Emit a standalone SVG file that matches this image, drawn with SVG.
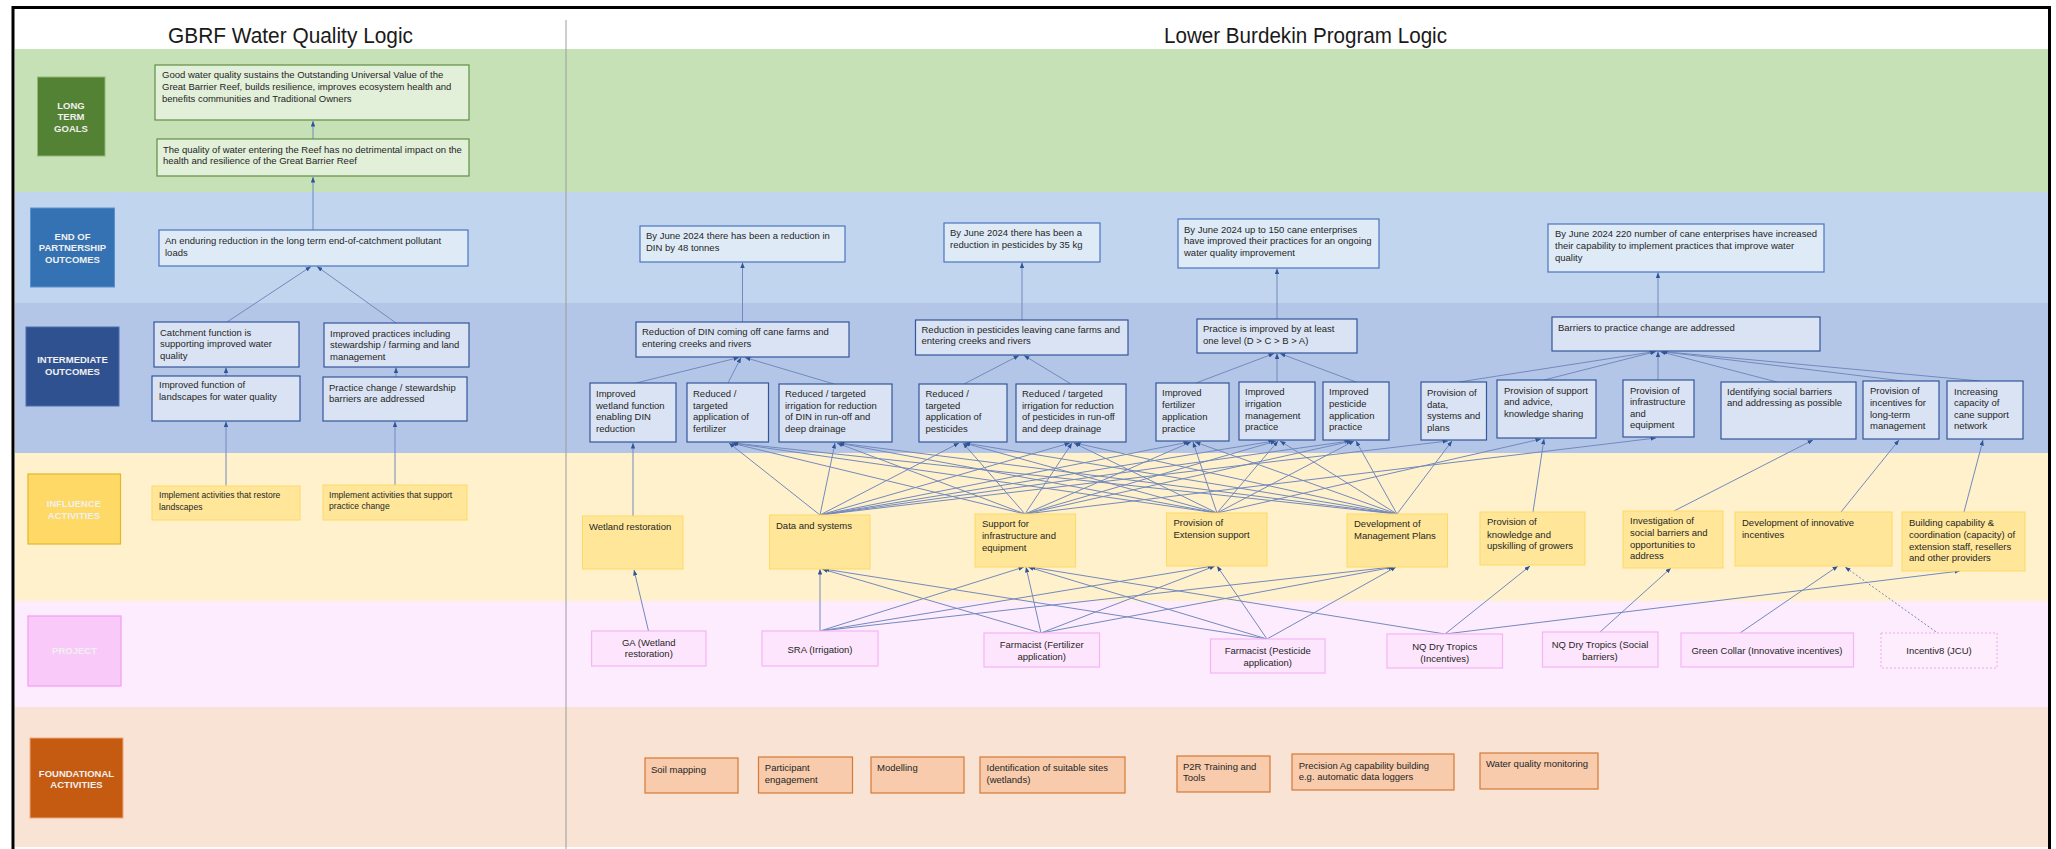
<svg xmlns="http://www.w3.org/2000/svg" width="2056" height="849" viewBox="0 0 2056 849">
<defs>
<marker id="ah" viewBox="0 0 10 8" refX="10" refY="4" markerWidth="5.5" markerHeight="4.4" markerUnits="userSpaceOnUse" orient="auto" preserveAspectRatio="none">
<path d="M0,0 L10,4 L0,8 z" fill="#2f5597"/>
</marker>
<style>
text{font-family:"Liberation Sans",Arial,sans-serif;}
.t{font-size:9.5px;fill:#262626;}
.ts{font-size:8.6px;fill:#262626;}
.ctr{text-anchor:middle;}
.h{font-size:9.5px;font-weight:bold;fill:#f0f0f0;text-anchor:middle;}
.ttl{font-size:22px;fill:#1a1a1a;text-anchor:middle;}
.gl{fill:#e2efd9;stroke:#5f8f45;stroke-width:1.2;}
.eo{fill:#deebf7;stroke:#4a74c0;stroke-width:1.2;}
.io{fill:#dae3f3;stroke:#34569a;stroke-width:1.2;}
.inf{fill:#ffe699;stroke:#ffd966;stroke-width:1;}
.pr{fill:#fde5fd;stroke:#f5b4f3;stroke-width:1.2;}
.prd{fill:#fdedfd;stroke:#f2a8ef;stroke-width:1;stroke-dasharray:2 2;}
.fd{fill:#f7cbab;stroke:#d47a36;stroke-width:1.2;}
.c{stroke:#7389bd;stroke-width:1;fill:none;marker-end:url(#ah);}
.cd{stroke:#7389bd;stroke-width:1;fill:none;stroke-dasharray:2 2;marker-end:url(#ah);}
</style>
</defs>
<rect x="0" y="0" width="2056" height="849" fill="#ffffff"/>
<g id="bands">
<rect x="15" y="49" width="2033" height="143" fill="#c7e1b6"/>
<rect x="15" y="192" width="2033" height="111" fill="#c1d6ee"/>
<rect x="15" y="303" width="2033" height="150" fill="#b4c6e7"/>
<rect x="15" y="453" width="2033" height="148" fill="#fff1cc"/>
<rect x="15" y="601" width="2033" height="106" fill="#fdecfd"/>
<rect x="15" y="707" width="2033" height="140" fill="#f9e3d5"/>
<line x1="566" y1="20" x2="566" y2="849" stroke="#9c9c9c" stroke-width="1"/>
<path d="M13,849 V7.5 H2049.5 V849" fill="none" stroke="#000" stroke-width="3"/>
</g>
<g id="titles">
<text class="ttl" x="290.5" y="43" textLength="245" lengthAdjust="spacingAndGlyphs">GBRF Water Quality Logic</text>
<text class="ttl" x="1305.5" y="43" textLength="283" lengthAdjust="spacingAndGlyphs">Lower Burdekin Program Logic</text>
</g>
<g id="hdr-ltg"><rect x="37.5" y="77" width="67.5" height="79" fill="#548235" stroke="#8fb872" stroke-width="1"/>
<text class="h" x="71" y="108.5">LONG</text><text class="h" x="71" y="120">TERM</text><text class="h" x="71" y="131.5">GOALS</text></g>
<g id="hdr-eop"><rect x="30.5" y="208" width="84" height="79" fill="#3572b4" stroke="#5a90cc" stroke-width="1"/>
<text class="h" x="72.5" y="239.5">END OF</text><text class="h" x="72.5" y="251">PARTNERSHIP</text><text class="h" x="72.5" y="262.7">OUTCOMES</text></g>
<g id="hdr-io"><rect x="26" y="327" width="93" height="79" fill="#30518f" stroke="#4a6db0" stroke-width="1"/>
<text class="h" x="72.5" y="363">INTERMEDIATE</text><text class="h" x="72.5" y="374.7">OUTCOMES</text></g>
<g id="hdr-inf"><rect x="28" y="474" width="92.5" height="70" fill="#ffd966" stroke="#e3b62c" stroke-width="1.2"/>
<text class="h" x="74" y="507.4">INFLUENCE</text><text class="h" x="74" y="519">ACTIVITIES</text></g>
<g id="hdr-proj"><rect x="28" y="616" width="93" height="70" fill="#f9caf9" stroke="#f39cf1" stroke-width="1.2"/>
<text class="h" x="74.5" y="654.4">PROJECT</text></g>
<g id="hdr-found"><rect x="30" y="738" width="93" height="80" fill="#c55a11" stroke="#f0a878" stroke-width="1"/>
<text class="h" x="76.5" y="776.7">FOUNDATIONAL</text><text class="h" x="76.5" y="788.4">ACTIVITIES</text></g>

<g id="connectors">
<line class="c" x1="313" y1="139" x2="313" y2="121"/>
<line class="c" x1="313" y1="230" x2="313" y2="177"/>
<line class="c" x1="227" y1="322" x2="311" y2="266.5"/>
<line class="c" x1="396" y1="323" x2="317" y2="266.5"/>
<line class="c" x1="226" y1="376" x2="226" y2="367.5"/>
<line class="c" x1="396" y1="377" x2="396" y2="367.5"/>
<line class="c" x1="226" y1="485.5" x2="226" y2="421.5"/>
<line class="c" x1="395" y1="485" x2="395" y2="421.5"/>
<line class="c" x1="742.5" y1="322" x2="742.5" y2="262.5"/>
<line class="c" x1="1022" y1="320" x2="1022" y2="262.5"/>
<line class="c" x1="1277" y1="319" x2="1277" y2="268.5"/>
<line class="c" x1="1658" y1="317" x2="1658" y2="272.5"/>
<line class="c" x1="636" y1="383" x2="739" y2="357.5"/>
<line class="c" x1="728" y1="383" x2="741" y2="357.5"/>
<line class="c" x1="834" y1="384" x2="745" y2="357.5"/>
<line class="c" x1="964" y1="384" x2="1019" y2="355.5"/>
<line class="c" x1="1071" y1="384" x2="1024" y2="355.5"/>
<line class="c" x1="1196" y1="383" x2="1274" y2="353.5"/>
<line class="c" x1="1277" y1="382" x2="1277" y2="353.5"/>
<line class="c" x1="1356" y1="382" x2="1280" y2="353.5"/>
<line class="c" x1="1459" y1="382" x2="1655" y2="351.5"/>
<line class="c" x1="1544" y1="380" x2="1656" y2="351.5"/>
<line class="c" x1="1658" y1="380" x2="1658" y2="351.5"/>
<line class="c" x1="1777" y1="382" x2="1660" y2="351.5"/>
<line class="c" x1="1903" y1="381" x2="1661" y2="351.5"/>
<line class="c" x1="1980" y1="381" x2="1662" y2="351.5"/>
<line class="c" x1="633" y1="516" x2="633" y2="443"/>
<line class="c" x1="820" y1="515" x2="729" y2="443"/>
<line class="c" x1="820" y1="515" x2="835" y2="443"/>
<line class="c" x1="820" y1="515" x2="959" y2="443"/>
<line class="c" x1="820" y1="515" x2="1070" y2="443"/>
<line class="c" x1="820" y1="515" x2="1189" y2="442"/>
<line class="c" x1="820" y1="515" x2="1274" y2="441"/>
<line class="c" x1="820" y1="515" x2="1350" y2="441"/>
<line class="c" x1="820" y1="515" x2="1448" y2="441"/>
<line class="c" x1="1025" y1="514" x2="731" y2="443"/>
<line class="c" x1="1025" y1="514" x2="837" y2="443"/>
<line class="c" x1="1025" y1="514" x2="963" y2="443"/>
<line class="c" x1="1025" y1="514" x2="1072" y2="443"/>
<line class="c" x1="1025" y1="514" x2="1191" y2="442"/>
<line class="c" x1="1025" y1="514" x2="1276" y2="441"/>
<line class="c" x1="1025" y1="514" x2="1352" y2="441"/>
<line class="c" x1="1025" y1="514" x2="1656" y2="438"/>
<line class="c" x1="1217" y1="513" x2="732" y2="443"/>
<line class="c" x1="1217" y1="513" x2="838" y2="443"/>
<line class="c" x1="1217" y1="513" x2="964" y2="443"/>
<line class="c" x1="1217" y1="513" x2="1074" y2="443"/>
<line class="c" x1="1217" y1="513" x2="1193" y2="442"/>
<line class="c" x1="1217" y1="513" x2="1278" y2="441"/>
<line class="c" x1="1217" y1="513" x2="1354" y2="441"/>
<line class="c" x1="1217" y1="513" x2="1541" y2="439"/>
<line class="c" x1="1397" y1="514" x2="733" y2="443"/>
<line class="c" x1="1397" y1="514" x2="839" y2="443"/>
<line class="c" x1="1397" y1="514" x2="965" y2="443"/>
<line class="c" x1="1397" y1="514" x2="1075" y2="443"/>
<line class="c" x1="1397" y1="514" x2="1195" y2="442"/>
<line class="c" x1="1397" y1="514" x2="1280" y2="441"/>
<line class="c" x1="1397" y1="514" x2="1356" y2="441"/>
<line class="c" x1="1397" y1="514" x2="1452" y2="441"/>
<line class="c" x1="1533" y1="512" x2="1544" y2="439"/>
<line class="c" x1="1674" y1="511" x2="1813" y2="440"/>
<line class="c" x1="1841" y1="512" x2="1899" y2="440"/>
<line class="c" x1="1964" y1="512" x2="1983" y2="440"/>
<line class="c" x1="648.5" y1="631" x2="634" y2="570"/>
<line class="c" x1="820" y1="631" x2="820" y2="569"/>
<line class="c" x1="820" y1="631" x2="1024" y2="567"/>
<line class="c" x1="820" y1="631" x2="1213" y2="566"/>
<line class="c" x1="820" y1="631" x2="1392" y2="567"/>
<line class="c" x1="1041" y1="633" x2="822" y2="569"/>
<line class="c" x1="1041" y1="633" x2="1026" y2="567"/>
<line class="c" x1="1041" y1="633" x2="1215" y2="566"/>
<line class="c" x1="1041" y1="633" x2="1394" y2="567"/>
<line class="c" x1="1267" y1="639" x2="824" y2="569"/>
<line class="c" x1="1267" y1="639" x2="1028" y2="567"/>
<line class="c" x1="1267" y1="639" x2="1217" y2="566"/>
<line class="c" x1="1267" y1="639" x2="1396" y2="567"/>
<line class="c" x1="1445" y1="634" x2="1030" y2="567"/>
<line class="c" x1="1445" y1="634" x2="1530" y2="566"/>
<line class="c" x1="1445" y1="634" x2="1960" y2="571"/>
<line class="c" x1="1600" y1="632" x2="1671" y2="568"/>
<line class="c" x1="1740" y1="633" x2="1838" y2="566"/>
<line class="cd" x1="1939" y1="634" x2="1845" y2="567"/>
</g>

<g id="goal1"><rect class="gl" x="155" y="65" width="314" height="55"/>
<text class="t" x="162" y="77.5">Good water quality sustains the Outstanding Universal Value of the</text>
<text class="t" x="162" y="89.5">Great Barrier Reef, builds resilience, improves ecosystem health and</text>
<text class="t" x="162" y="101.5">benefits communities and Traditional Owners</text></g>
<g id="goal2"><rect class="gl" x="157" y="139" width="312" height="37"/>
<text class="t" x="163" y="152.5">The quality of water entering the Reef has no detrimental impact on the</text>
<text class="t" x="163" y="164">health and resilience of the Great Barrier Reef</text></g>
<g id="eop-left"><rect class="eo" x="159" y="230" width="309" height="36"/>
<text class="t" x="165" y="243.5">An enduring reduction in the long term end-of-catchment pollutant</text>
<text class="t" x="165" y="255.5">loads</text></g>
<g id="io-catchment"><rect class="io" x="154" y="322" width="145" height="45"/>
<text class="t" x="160" y="335.5">Catchment function is</text>
<text class="t" x="160" y="347">supporting improved water</text>
<text class="t" x="160" y="358.5">quality</text></g>
<g id="io-practices"><rect class="io" x="324" y="323" width="145" height="44"/>
<text class="t" x="330" y="336.5">Improved practices including</text>
<text class="t" x="330" y="348">stewardship / farming and land</text>
<text class="t" x="330" y="359.5">management</text></g>
<g id="io-landscapes"><rect class="io" x="152" y="376" width="148" height="45"/>
<text class="t" x="159" y="388">Improved function of</text>
<text class="t" x="159" y="399.5">landscapes for water quality</text></g>
<g id="io-barriers-left"><rect class="io" x="323" y="377" width="144" height="44"/>
<text class="t" x="329" y="390.5">Practice change / stewardship</text>
<text class="t" x="329" y="402">barriers are addressed</text></g>
<g id="inf-restore"><rect class="inf" x="152" y="486" width="148" height="34"/>
<text class="ts" x="159" y="497.5">Implement activities that restore</text>
<text class="ts" x="159" y="509.5">landscapes</text></g>
<g id="inf-support-left"><rect class="inf" x="323" y="485" width="144" height="35"/>
<text class="ts" x="329" y="497.5">Implement activities that support</text>
<text class="ts" x="329" y="508.5">practice change</text></g>

<g id="eop-din"><rect class="eo" x="640" y="226" width="205" height="36"/>
<text class="t" x="646" y="238.5">By June 2024 there has been a reduction in</text>
<text class="t" x="646" y="250.5">DIN by 48 tonnes</text></g>
<g id="eop-pest"><rect class="eo" x="944" y="223" width="156" height="39"/>
<text class="t" x="950" y="236.2">By June 2024 there has been a</text>
<text class="t" x="950" y="247.5">reduction in pesticides by 35 kg</text></g>
<g id="eop-150"><rect class="eo" x="1178" y="219" width="201" height="49"/>
<text class="t" x="1184" y="232.5">By June 2024 up to 150 cane enterprises</text>
<text class="t" x="1184" y="244.2">have improved their practices for an ongoing</text>
<text class="t" x="1184" y="255.8">water quality improvement</text></g>
<g id="eop-220"><rect class="eo" x="1548" y="224" width="276" height="48"/>
<text class="t" x="1555" y="236.8">By June 2024 220 number of cane enterprises have increased</text>
<text class="t" x="1555" y="249.2">their capability to implement practices that improve water</text>
<text class="t" x="1555" y="260.8">quality</text></g>

<g id="io-din"><rect class="io" x="636" y="322" width="213" height="35"/>
<text class="t" x="642" y="335.2">Reduction of DIN coming off cane farms and</text>
<text class="t" x="642" y="346.8">entering creeks and rivers</text></g>
<g id="io-pest"><rect class="io" x="915.5" y="320" width="212.5" height="35"/>
<text class="t" x="921.5" y="332.8">Reduction in pesticides leaving cane farms and</text>
<text class="t" x="921.5" y="344.2">entering creeks and rivers</text></g>
<g id="io-practice"><rect class="io" x="1197" y="319" width="160" height="34"/>
<text class="t" x="1203" y="332.2">Practice is improved by at least</text>
<text class="t" x="1203" y="344.2">one level (D &gt; C &gt; B &gt; A)</text></g>
<g id="io-barriers"><rect class="io" x="1552" y="317" width="268" height="34"/>
<text class="t" x="1558" y="331.2">Barriers to practice change are addressed</text></g>

<g id="s-wetland"><rect class="io" x="590" y="383" width="86" height="59"/>
<text class="t" x="596" y="396.8">Improved</text><text class="t" x="596" y="408.5">wetland function</text><text class="t" x="596" y="420.2">enabling DIN</text><text class="t" x="596" y="431.8">reduction</text></g>
<g id="s-fert"><rect class="io" x="687" y="383" width="81.5" height="59"/>
<text class="t" x="693" y="396.8">Reduced /</text><text class="t" x="693" y="408.5">targeted</text><text class="t" x="693" y="420.2">application of</text><text class="t" x="693" y="431.8">fertilizer</text></g>
<g id="s-irr-din"><rect class="io" x="779" y="384" width="113" height="58"/>
<text class="t" x="785" y="396.8">Reduced / targeted</text><text class="t" x="785" y="408.5">irrigation for reduction</text><text class="t" x="785" y="420.2">of DIN in run-off and</text><text class="t" x="785" y="431.8">deep drainage</text></g>
<g id="s-pest"><rect class="io" x="919" y="384" width="88" height="58"/>
<text class="t" x="925.5" y="396.8">Reduced /</text><text class="t" x="925.5" y="408.5">targeted</text><text class="t" x="925.5" y="420.2">application of</text><text class="t" x="925.5" y="431.8">pesticides</text></g>
<g id="s-irr-pest"><rect class="io" x="1016" y="384" width="110" height="58"/>
<text class="t" x="1022" y="396.8">Reduced / targeted</text><text class="t" x="1022" y="408.5">irrigation for reduction</text><text class="t" x="1022" y="420.2">of pesticides in run-off</text><text class="t" x="1022" y="431.8">and deep drainage</text></g>
<g id="s-imp-fert"><rect class="io" x="1156" y="383" width="73" height="58"/>
<text class="t" x="1162" y="395.8">Improved</text><text class="t" x="1162" y="407.5">fertilizer</text><text class="t" x="1162" y="420.2">application</text><text class="t" x="1162" y="431.8">practice</text></g>
<g id="s-imp-irr"><rect class="io" x="1239" y="382" width="76" height="58"/>
<text class="t" x="1245" y="395.3">Improved</text><text class="t" x="1245" y="407">irrigation</text><text class="t" x="1245" y="418.7">management</text><text class="t" x="1245" y="430.3">practice</text></g>
<g id="s-imp-pest"><rect class="io" x="1323" y="382" width="66" height="58"/>
<text class="t" x="1329" y="395.3">Improved</text><text class="t" x="1329" y="407">pesticide</text><text class="t" x="1329" y="418.7">application</text><text class="t" x="1329" y="430.3">practice</text></g>
<g id="s-data"><rect class="io" x="1421" y="382" width="65.5" height="58"/>
<text class="t" x="1427" y="395.8">Provision of</text><text class="t" x="1427" y="407.5">data,</text><text class="t" x="1427" y="419.2">systems and</text><text class="t" x="1427" y="430.8">plans</text></g>
<g id="s-advice"><rect class="io" x="1497" y="380" width="99" height="58"/>
<text class="t" x="1504" y="393.5">Provision of support</text><text class="t" x="1504" y="405.2">and advice,</text><text class="t" x="1504" y="416.8">knowledge sharing</text></g>
<g id="s-infra"><rect class="io" x="1623" y="380" width="71" height="57"/>
<text class="t" x="1630" y="393.5">Provision of</text><text class="t" x="1630" y="404.8">infrastructure</text><text class="t" x="1630" y="416.5">and</text><text class="t" x="1630" y="427.8">equipment</text></g>
<g id="s-social"><rect class="io" x="1721" y="382" width="135" height="57"/>
<text class="t" x="1727" y="395.2">Identifying social barriers</text><text class="t" x="1727" y="406.2">and addressing as possible</text></g>
<g id="s-incent"><rect class="io" x="1863" y="381" width="76" height="58"/>
<text class="t" x="1870" y="393.5">Provision of</text><text class="t" x="1870" y="405.8">incentives for</text><text class="t" x="1870" y="417.8">long-term</text><text class="t" x="1870" y="429.2">management</text></g>
<g id="s-capacity"><rect class="io" x="1947" y="381" width="76" height="58"/>
<text class="t" x="1954" y="395.2">Increasing</text><text class="t" x="1954" y="406.2">capacity of</text><text class="t" x="1954" y="417.8">cane support</text><text class="t" x="1954" y="429.2">network</text></g>

<g id="i-wetland"><rect class="inf" x="582.5" y="516" width="100.5" height="53"/>
<text class="t" x="589" y="529.5">Wetland restoration</text></g>
<g id="i-data"><rect class="inf" x="769.5" y="515" width="100.5" height="54"/>
<text class="t" x="776" y="528.5">Data and systems</text></g>
<g id="i-infra"><rect class="inf" x="975" y="514" width="100.6" height="53"/>
<text class="t" x="982" y="526.8">Support for</text><text class="t" x="982" y="538.8">infrastructure and</text><text class="t" x="982" y="550.5">equipment</text></g>
<g id="i-extension"><rect class="inf" x="1166.5" y="513" width="100.5" height="53"/>
<text class="t" x="1173.5" y="525.5">Provision of</text><text class="t" x="1173.5" y="537.5">Extension support</text></g>
<g id="i-plans"><rect class="inf" x="1347" y="514" width="100.5" height="53"/>
<text class="t" x="1354" y="526.8">Development of</text><text class="t" x="1354" y="538.5">Management Plans</text></g>
<g id="i-knowledge"><rect class="inf" x="1480" y="512" width="105" height="53"/>
<text class="t" x="1487" y="525.2">Provision of</text><text class="t" x="1487" y="537.5">knowledge and</text><text class="t" x="1487" y="549.2">upskilling of growers</text></g>
<g id="i-social"><rect class="inf" x="1623" y="511" width="100" height="57"/>
<text class="t" x="1630" y="524.2">Investigation of</text><text class="t" x="1630" y="535.8">social barriers and</text><text class="t" x="1630" y="547.5">opportunities to</text><text class="t" x="1630" y="559.2">address</text></g>
<g id="i-incentives"><rect class="inf" x="1735" y="512" width="157" height="54"/>
<text class="t" x="1742" y="525.8">Development of innovative</text><text class="t" x="1742" y="537.5">incentives</text></g>
<g id="i-capability"><rect class="inf" x="1902" y="512" width="123" height="59"/>
<text class="t" x="1909" y="525.5">Building capability &amp;</text><text class="t" x="1909" y="537.5">coordination (capacity) of</text><text class="t" x="1909" y="549.5">extension staff, resellers</text><text class="t" x="1909" y="560.5">and other providers</text></g>

<g id="p-ga"><rect class="pr" x="591.6" y="631" width="114.4" height="35"/>
<text class="t ctr" x="648.8" y="645.5">GA (Wetland</text><text class="t ctr" x="648.8" y="656.7">restoration)</text></g>
<g id="p-sra"><rect class="pr" x="762" y="631" width="116" height="35"/>
<text class="t ctr" x="820" y="652.5">SRA (Irrigation)</text></g>
<g id="p-farm-fert"><rect class="pr" x="984" y="633" width="115.5" height="34"/>
<text class="t ctr" x="1041.7" y="647.5">Farmacist (Fertilizer</text><text class="t ctr" x="1041.7" y="659.5">application)</text></g>
<g id="p-farm-pest"><rect class="pr" x="1210.5" y="639" width="114.5" height="34"/>
<text class="t ctr" x="1267.7" y="653.5">Farmacist (Pesticide</text><text class="t ctr" x="1267.7" y="665.5">application)</text></g>
<g id="p-nq-inc"><rect class="pr" x="1387" y="634" width="115.5" height="34"/>
<text class="t ctr" x="1444.7" y="649.5">NQ Dry Tropics</text><text class="t ctr" x="1444.7" y="661.5">(Incentives)</text></g>
<g id="p-nq-soc"><rect class="pr" x="1542.5" y="632" width="115.5" height="35"/>
<text class="t ctr" x="1600" y="647.8">NQ Dry Tropics (Social</text><text class="t ctr" x="1600" y="660.2">barriers)</text></g>
<g id="p-green"><rect class="pr" x="1681" y="633" width="172.5" height="34"/>
<text class="t ctr" x="1767" y="653.5">Green Collar (Innovative incentives)</text></g>
<g id="p-incentiv8"><rect class="prd" x="1881" y="633" width="116" height="35"/>
<text class="t ctr" x="1939" y="654.2">Incentiv8 (JCU)</text></g>

<g id="f-soil"><rect class="fd" x="645" y="758" width="93" height="35"/>
<text class="t" x="651" y="772.8">Soil mapping</text></g>
<g id="f-engage"><rect class="fd" x="758.5" y="757" width="94" height="36"/>
<text class="t" x="764.8" y="770.8">Participant</text><text class="t" x="764.8" y="782.5">engagement</text></g>
<g id="f-model"><rect class="fd" x="871" y="757" width="93" height="36"/>
<text class="t" x="877" y="770.8">Modelling</text></g>
<g id="f-sites"><rect class="fd" x="980" y="757" width="145" height="36"/>
<text class="t" x="986.5" y="770.8">Identification of suitable sites</text><text class="t" x="986.5" y="782.5">(wetlands)</text></g>
<g id="f-p2r"><rect class="fd" x="1177" y="756" width="93" height="36"/>
<text class="t" x="1183" y="769.5">P2R Training and</text><text class="t" x="1183" y="780.8">Tools</text></g>
<g id="f-precision"><rect class="fd" x="1292" y="754" width="162" height="36"/>
<text class="t" x="1298.7" y="768.5">Precision Ag capability building</text><text class="t" x="1298.7" y="780.2">e.g. automatic data loggers</text></g>
<g id="f-wq"><rect class="fd" x="1480" y="753" width="118" height="36"/>
<text class="t" x="1486" y="766.8">Water quality monitoring</text></g>
</svg>
